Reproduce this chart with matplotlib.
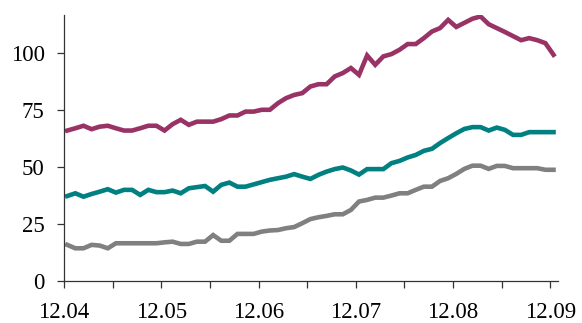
import numpy as np
import matplotlib
matplotlib.use("Agg")
import matplotlib.pyplot as plt

# monthly values, 12.04 -> 12.09
serie_alta = [65.8, 66.8, 67.9, 66.4, 67.5, 67.9, 66.8, 65.8, 65.8, 66.8, 67.9, 67.9, 65.8,
              68.6, 70.5, 68.3, 69.7, 69.7, 69.7, 70.8, 72.4, 72.4, 74.1, 74.1, 74.9,
              74.9, 77.8, 80.0, 81.4, 82.2, 85.1, 86.1, 86.1, 89.5, 91.0, 93.2, 90.2,
              98.7, 94.6, 98.3, 99.3, 101.2, 103.7, 103.7, 106.3, 109.2, 110.7, 114.3, 111.2,
              113.0, 114.8, 115.8, 112.4, 110.7, 109.0, 107.2, 105.4, 106.3, 105.4, 104.1, 99.0]
serie_media = [37.1, 38.3, 36.8, 38.0, 39.0, 40.1, 38.6, 39.8, 39.8, 37.6, 39.8, 38.8, 38.8,
               39.5, 38.3, 40.5, 41.0, 41.5, 39.0, 42.0, 43.0, 41.2, 41.2, 42.2, 43.2,
               44.2, 44.9, 45.6, 46.7, 45.6, 44.6, 46.4, 47.8, 48.9, 49.6, 48.3, 46.5,
               48.9, 48.9, 48.9, 51.5, 52.5, 54.0, 55.1, 56.9, 57.8, 60.3, 62.5, 64.6,
               66.5, 67.3, 67.3, 65.8, 67.1, 66.1, 63.9, 63.9, 65.1, 65.1, 65.1, 65.1]
serie_baixa = [15.7, 14.2, 14.2, 15.7, 15.4, 14.2, 16.4, 16.4, 16.4, 16.4, 16.4, 16.4, 16.8,
               17.1, 16.1, 16.1, 17.1, 17.1, 20.0, 17.5, 17.5, 20.5, 20.5, 20.5, 21.5,
               22.0, 22.2, 23.0, 23.5, 25.2, 27.0, 27.8, 28.4, 29.1, 29.1, 31.0, 34.7,
               35.4, 36.4, 36.4, 37.3, 38.3, 38.3, 39.8, 41.2, 41.2, 43.7, 44.9, 46.8,
               49.0, 50.4, 50.4, 49.0, 50.3, 50.3, 49.3, 49.3, 49.3, 49.3, 48.6, 48.6]
rotulos_x = ["12.04", "12.05", "12.06", "12.07", "12.08", "12.09"]
ticks_y = [0, 25, 50, 75, 100]

plt.rcParams["font.family"] = ["Liberation Serif", "DejaVu Serif"]

meses = np.arange(len(serie_alta)) + 0.4

fig = plt.figure(figsize=(5.82, 3.23), dpi=100)
ax = fig.add_axes([0.110, 0.131, 0.848, 0.823])

ax.plot(meses, serie_alta, color="#993366", lw=3.3, solid_joinstyle="miter")
ax.plot(meses, serie_media, color="#008080", lw=3.3, solid_joinstyle="miter")
ax.plot(meses, serie_baixa, color="#808080", lw=3.3, solid_joinstyle="miter")

ax.set_xlim(0, 60.9)
ax.set_ylim(0, 116.5)
ax.set_xticks(np.arange(0, 61, 12))
ax.set_xticklabels(rotulos_x)
ax.set_xticks(np.arange(6, 61, 12), minor=True)
ax.set_yticks(ticks_y)

for lado in ["top", "right"]:
    ax.spines[lado].set_visible(False)
for lado in ["left", "bottom"]:
    ax.spines[lado].set_color("#333333")
    ax.spines[lado].set_linewidth(0.9)

ax.tick_params(axis="both", which="both", direction="out", length=5, width=0.9,
               color="#333333", labelsize=16.5)
ax.tick_params(axis="y", pad=9)
ax.tick_params(axis="x", pad=10)

fig.savefig("out.png", dpi=100)
